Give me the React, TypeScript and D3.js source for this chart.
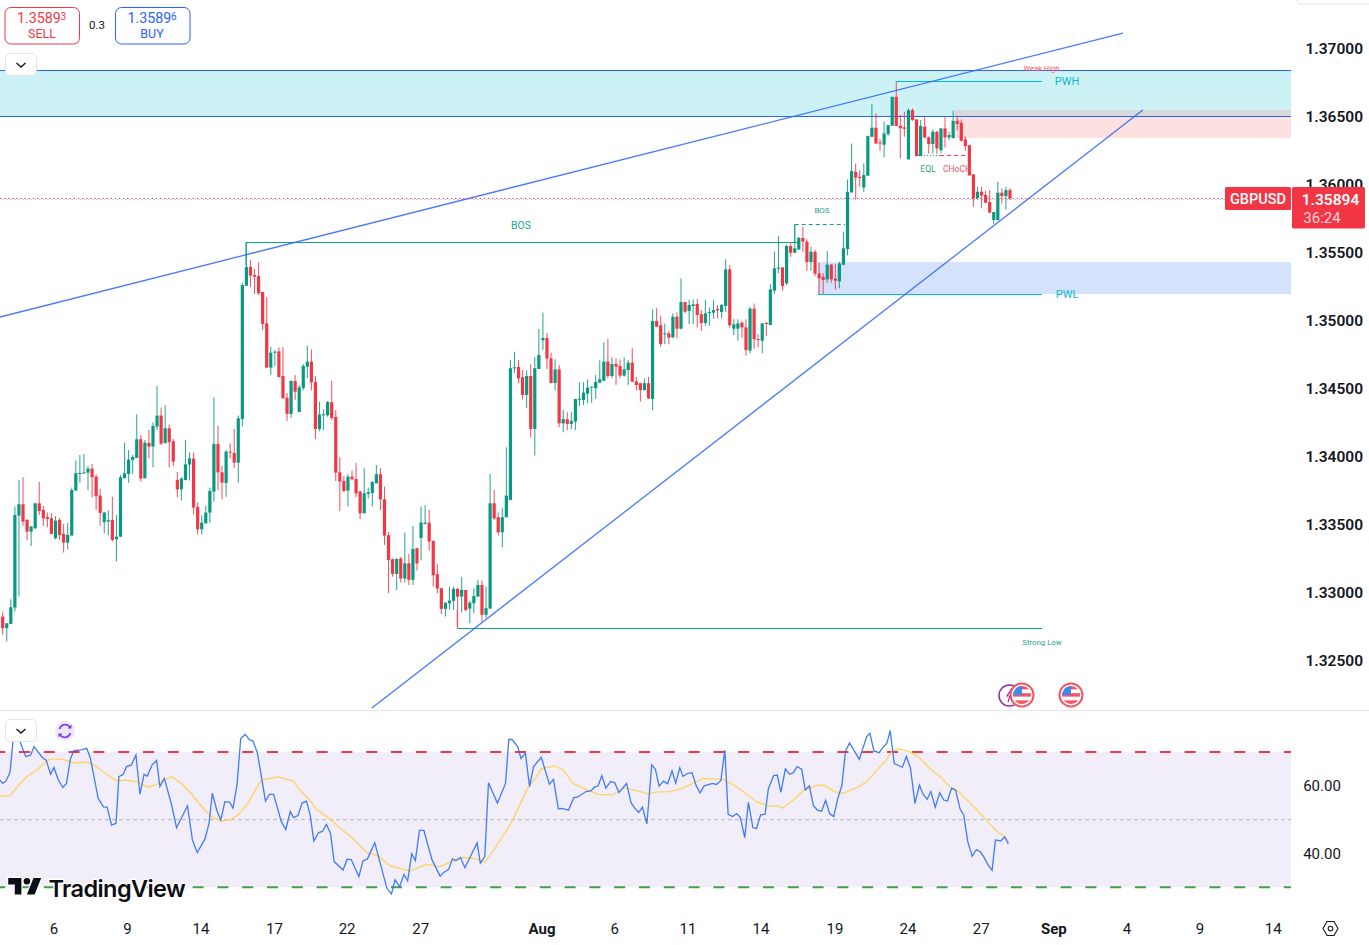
import React from "react";
import * as d3 from "d3";

const opens = [1.32819,1.32734,1.32765,1.32886,1.33562,1.33645,1.33530,1.33444,1.33469,1.33652,
1.33603,1.33550,1.33542,1.33395,1.33530,1.33427,1.33363,1.33415,1.33746,1.33871,
1.33873,1.33878,1.33907,1.33848,1.33709,1.33513,1.33518,1.33530,1.33388,1.33407,
1.33836,1.33868,1.33971,1.33986,1.34123,1.33836,1.34096,1.34069,1.34216,1.34297,
1.34094,1.34204,1.34108,1.33824,1.33755,1.33824,1.33937,1.33981,1.33626,1.33461,
1.33505,1.33584,1.33738,1.34089,1.33880,1.33802,1.34032,1.34022,1.33951,1.34272,
1.35252,1.35390,1.35331,1.35323,1.35206,1.34975,1.34650,1.34760,1.34770,1.34588,
1.34429,1.34309,1.34552,1.34324,1.34500,1.34657,1.34694,1.34544,1.34199,1.34299,
1.34299,1.34395,1.34287,1.33880,1.33817,1.33746,1.33848,1.33831,1.33738,1.33579,
1.33721,1.33728,1.33799,1.33866,1.33682,1.33417,1.33241,1.33133,1.33246,1.33099,
1.33211,1.33089,1.33322,1.33398,1.33501,1.33510,1.33376,1.33131,1.33028,1.32876,
1.32917,1.32935,1.33023,1.32966,1.33015,1.32878,1.32917,1.32966,1.33052,1.32832,
1.32878,1.33652,1.33550,1.33439,1.33550,1.33677,1.34647,1.34655,1.34579,1.34449,
1.34588,1.34199,1.34640,1.34851,1.34868,1.34718,1.34537,1.34637,1.34240,1.34270,
1.34236,1.34253,1.34414,1.34412,1.34459,1.34503,1.34498,1.34539,1.34554,1.34694,
1.34588,1.34677,1.34662,1.34591,1.34632,1.34686,1.34549,1.34535,1.34485,1.34535,
1.34419,1.34993,1.34961,1.34897,1.34902,1.34873,1.35024,1.34936,1.35132,1.35066,
1.35103,1.35118,1.35042,1.34978,1.35054,1.35054,1.35081,1.35059,1.35103,1.35372,
1.34936,1.34936,1.34980,1.34946,1.34775,1.35083,1.34860,1.34848,1.34978,1.34963,
1.35216,1.35377,1.35387,1.35269,1.35544,1.35495,1.35519,1.35603,1.35576,1.35426,
1.35502,1.35343,1.35318,1.35299,1.35407,1.35304,1.35284,1.35407,1.35522,1.35938,
1.36090,1.36053,1.35975,1.36061,1.36347,1.36414,1.36306,1.36289,1.36367,1.36428,
1.36641,1.36428,1.36416,1.36181,1.36543,1.36475,1.36205,1.36421,1.36343,1.36294,
1.36384,1.36249,1.36409,1.36343,1.36338,1.36465,1.36450,1.36328,1.36286,1.36071,
1.35897,1.35943,1.35919,1.35867,1.35735,1.35735,1.35936,1.35911,1.35955];

const closes = [1.32734,1.32770,1.32888,1.33567,1.33645,1.33518,1.33444,1.33481,1.33652,1.33596,
1.33542,1.33537,1.33427,1.33525,1.33420,1.33363,1.33420,1.33750,1.33873,1.33875,
1.33880,1.33907,1.33844,1.33704,1.33581,1.33584,1.33528,1.33383,1.33407,1.33844,
1.33873,1.33973,1.33993,1.34123,1.33834,1.34098,1.34069,1.34221,1.34297,1.34091,
1.34204,1.34101,1.33959,1.33755,1.33834,1.33939,1.33983,1.33621,1.33461,1.33510,
1.33584,1.33743,1.34089,1.33880,1.33804,1.34032,1.34025,1.33951,1.34277,1.35257,
1.35390,1.35326,1.35318,1.35196,1.34971,1.34650,1.34760,1.34767,1.34581,1.34424,
1.34309,1.34552,1.34473,1.34505,1.34662,1.34694,1.34542,1.34199,1.34304,1.34307,
1.34397,1.34280,1.33878,1.33812,1.33743,1.33848,1.33829,1.33726,1.33579,1.33726,
1.33733,1.33809,1.33866,1.33682,1.33415,1.33234,1.33133,1.33243,1.33099,1.33211,
1.33089,1.33317,1.33211,1.33510,1.33510,1.33371,1.33123,1.33025,1.32876,1.32922,
1.32937,1.33023,1.32966,1.33015,1.32868,1.32922,1.32971,1.33052,1.32832,1.32881,
1.33652,1.33542,1.33439,1.33550,1.33709,1.34645,1.34652,1.34571,1.34449,1.34588,
1.34199,1.34645,1.34743,1.34868,1.34716,1.34537,1.34637,1.34240,1.34272,1.34236,
1.34258,1.34419,1.34422,1.34466,1.34503,1.34510,1.34544,1.34564,1.34694,1.34588,
1.34677,1.34657,1.34591,1.34637,1.34686,1.34547,1.34522,1.34485,1.34535,1.34424,
1.34993,1.34951,1.34824,1.34902,1.34870,1.35024,1.34936,1.35132,1.35061,1.35110,
1.35115,1.35037,1.34978,1.35049,1.35059,1.35073,1.35071,1.35110,1.35372,1.34961,
1.34968,1.34975,1.34946,1.34779,1.35083,1.34858,1.34858,1.34975,1.34971,1.35225,
1.35380,1.35385,1.35250,1.35544,1.35495,1.35527,1.35603,1.35576,1.35426,1.35502,
1.35341,1.35306,1.35294,1.35407,1.35299,1.35289,1.35416,1.35527,1.35943,1.36095,
1.36046,1.36044,1.36066,1.36352,1.36414,1.36298,1.36298,1.36372,1.36433,1.36641,
1.36426,1.36411,1.36406,1.36543,1.36470,1.36205,1.36426,1.36343,1.36294,1.36384,
1.36262,1.36409,1.36343,1.36360,1.36465,1.36441,1.36318,1.36279,1.36063,1.35894,
1.35943,1.35914,1.35862,1.35789,1.35794,1.35936,1.35911,1.35955,1.35894];

const highs = [1.32856,1.32770,1.32947,1.33628,1.33824,1.33844,1.33537,1.33486,1.33657,1.33809,
1.33633,1.33584,1.33579,1.33559,1.33542,1.33501,1.33510,1.33768,1.33966,1.34008,
1.34015,1.33927,1.33942,1.33866,1.33758,1.33589,1.33599,1.33701,1.33567,1.33861,
1.34098,1.34044,1.34008,1.34307,1.34157,1.34118,1.34191,1.34248,1.34515,1.34356,
1.34373,1.34231,1.34125,1.33883,1.33844,1.34118,1.34025,1.34025,1.33660,1.33567,
1.33635,1.33768,1.34432,1.34223,1.33927,1.34044,1.34093,1.34199,1.34297,1.35274,
1.35570,1.35441,1.35375,1.35424,1.35206,1.35167,1.34804,1.34779,1.34797,1.34802,
1.34463,1.34557,1.34596,1.34522,1.34677,1.34811,1.34784,1.34588,1.34397,1.34343,
1.34405,1.34554,1.34336,1.33991,1.33853,1.33866,1.33893,1.33949,1.33746,1.33910,
1.33768,1.33814,1.33934,1.33910,1.33775,1.33442,1.33248,1.33248,1.33260,1.33437,
1.33280,1.33486,1.33322,1.33628,1.33638,1.33603,1.33376,1.33204,1.33028,1.32922,
1.33040,1.33040,1.33028,1.33113,1.33015,1.32935,1.33028,1.33089,1.33084,1.33040,
1.33868,1.33750,1.33584,1.33616,1.34064,1.34706,1.34767,1.34706,1.34632,1.34628,
1.34674,1.34726,1.34934,1.35056,1.34907,1.34760,1.34711,1.34669,1.34338,1.34321,
1.34326,1.34419,1.34542,1.34542,1.34564,1.34510,1.34596,1.34704,1.34836,1.34860,
1.34726,1.34718,1.34711,1.34726,1.34706,1.34792,1.34583,1.34539,1.34571,1.34583,
1.35078,1.35086,1.35032,1.34975,1.34919,1.35049,1.35056,1.35306,1.35132,1.35147,
1.35152,1.35154,1.35073,1.35147,1.35091,1.35147,1.35110,1.35118,1.35446,1.35404,
1.35005,1.35005,1.34993,1.35005,1.35098,1.35122,1.34895,1.34975,1.34988,1.35262,
1.35505,1.35617,1.35387,1.35556,1.35568,1.35703,1.35612,1.35686,1.35593,1.35539,
1.35519,1.35421,1.35343,1.35507,1.35412,1.35412,1.35429,1.35649,1.36034,1.36298,
1.36151,1.36102,1.36151,1.36357,1.36588,1.36519,1.36330,1.36458,1.36433,1.36641,
1.36752,1.36507,1.36531,1.36556,1.36556,1.36475,1.36470,1.36490,1.36352,1.36401,
1.36392,1.36409,1.36490,1.36384,1.36539,1.36502,1.36475,1.36352,1.36286,1.36071,
1.35980,1.35980,1.35951,1.35955,1.35794,1.36017,1.35968,1.35980,1.35968];

const lows = [1.32685,1.32636,1.32765,1.32856,1.32966,1.33488,1.33378,1.33339,1.33461,1.33567,
1.33488,1.33476,1.33427,1.33388,1.33383,1.33290,1.33314,1.33415,1.33746,1.33804,
1.33868,1.33750,1.33694,1.33603,1.33488,1.33432,1.33415,1.33371,1.33224,1.33403,
1.33836,1.33804,1.33868,1.33986,1.33812,1.33836,1.33983,1.33917,1.34191,1.34081,
1.34094,1.33917,1.33927,1.33694,1.33672,1.33819,1.33819,1.33572,1.33422,1.33422,
1.33505,1.33510,1.33665,1.33750,1.33682,1.33701,1.33983,1.33910,1.33804,1.34216,
1.35252,1.35245,1.35191,1.35186,1.34926,1.34650,1.34596,1.34662,1.34576,1.34424,
1.34258,1.34280,1.34412,1.34324,1.34481,1.34571,1.34481,1.34125,1.34182,1.34191,
1.34289,1.34265,1.33817,1.33596,1.33736,1.33628,1.33819,1.33697,1.33537,1.33579,
1.33687,1.33628,1.33799,1.33603,1.33346,1.32991,1.33113,1.33015,1.33069,1.33069,
1.33052,1.33052,1.33158,1.33231,1.33496,1.33305,1.33040,1.32991,1.32839,1.32819,
1.32873,1.32868,1.32741,1.32849,1.32856,1.32770,1.32844,1.32966,1.32783,1.32807,
1.32878,1.33530,1.33415,1.33329,1.33550,1.33677,1.34608,1.34535,1.34417,1.34351,
1.34135,1.34003,1.34640,1.34779,1.34640,1.34535,1.34481,1.34211,1.34174,1.34191,
1.34196,1.34191,1.34368,1.34373,1.34387,1.34392,1.34419,1.34539,1.34547,1.34571,
1.34571,1.34522,1.34571,1.34583,1.34522,1.34542,1.34481,1.34400,1.34481,1.34419,
1.34338,1.34951,1.34804,1.34821,1.34824,1.34865,1.34865,1.34931,1.35049,1.34971,
1.34971,1.34944,1.34919,1.34958,1.34958,1.35010,1.35012,1.35012,1.35061,1.34944,
1.34890,1.34848,1.34870,1.34738,1.34755,1.34789,1.34797,1.34755,1.34882,1.34963,
1.35191,1.35343,1.35216,1.35257,1.35465,1.35490,1.35514,1.35502,1.35363,1.35363,
1.35323,1.35189,1.35189,1.35274,1.35274,1.35225,1.35233,1.35402,1.35475,1.35938,
1.35887,1.35980,1.35941,1.36061,1.36347,1.36294,1.36245,1.36196,1.36352,1.36428,
1.36426,1.36188,1.36347,1.36181,1.36465,1.36205,1.36205,1.36335,1.36225,1.36225,
1.36220,1.36225,1.36269,1.36323,1.36335,1.36396,1.36311,1.36245,1.36063,1.35833,
1.35887,1.35821,1.35862,1.35789,1.35706,1.35730,1.35857,1.35813,1.35882];

const rsiBars = [-0.7,0,0.8,1.8,2.6,3.9,4.4,5.7,6.9,7.7,9.8,10.7,11.8,12.6,13.7,14.8,15.7,16.7,17.5,19.4,20.7,21.6,23.5,24.8,25.7,26.8,27.9,28.6,29.7,30.5,31.7,32.8,33.8,34.8,35.6,36.8,37.9,38.7,39.8,41.6,42.8,45.5,46.7,47.9,49.8,50.8,51.6,52.8,53.7,54.7,55.9,56.7,57.7,58.6,59.7,60.8,61.6,62.7,64.7,65.7,66.7,68.6,69.7,70.8,71.6,72.7,73.7,74.8,75.7,76.6,77.8,78.7,79.7,80.7,81.6,83.8,84.8,85.8,87.7,88.7,89.8,91.6,94.6,95.7,96.6,97.7,98.8,99.7,100.7,101.6,102.6,103.7,105.7,107.7,108.6,109.8,110.7,111.6,112.7,113.8,116.8,117.6,118.7,119.6,121.8,123.8,124.6,125.4,126.8,127.6,128.7,129.7,130.7,132.6,134.6,135.6,136.8,137.7,139.3,140.6,141.6,143.6,144.8,145.7,146.6,147.5,148.5,149.7,150.7,151.7,153.6,154.7,155.6,156.6,157.5,158.6,159.8,160.7,161.6,162.7,163.7,164.8,165.7,166.7,167.5,168.7,169.7,170.7,171.7,172.7,174.8,175.7,176.8,177.8,178.6,179.7,180.7,181.6,182.7,183.6,184.7,185.6,186.6,187.7,188.5,189.8,190.7,191.6,192.7,193.7,194.6,195.6,196.7,197.6,198.6,199.6,200.6,201.6,202.6,203.6,204.6,205.6,206.6,207.5,208.5,210.9,212.7,213.5,214.5,215.8,216.8,217.7,218.5,219.5,221.5,222.5,223.5,224.6,225.7,226.6,227.6,228.5,229.6,230.7,231.7,232.6,233.6,234.6,235.7,236.6,237.6,238.7,239.7,240.7,241.6,242.6,243.6,244.4,245.7,246.7,247.6];
const rsiValues = [61.7,60.7,61.4,64,74,75,72.6,68.6,69.1,71.6,68.3,67.6,63.4,65.4,61.7,59.5,60.7,68.1,70.4,70.6,71.1,68.1,56.3,53.8,53.7,48.4,48.9,62.7,63.4,65.7,66.2,69.1,57.5,63.4,62.9,66.2,67.5,59.8,62.2,54.3,47.6,54.1,44,40.3,44.3,48.9,57.8,52.4,49.9,55.3,55.1,53.4,60.4,74,75.2,73.6,73.3,69.8,55.5,57.5,57.5,49.4,47.1,52.4,50.6,51.2,54.9,55.5,51.4,43.7,46.2,46.5,48.6,46,37.6,35.1,38.3,38.2,33.2,37.8,38.4,43.2,29.7,28,32.2,30.2,33.8,31.9,39.9,37.9,46.8,46.8,38.1,33.3,34.4,35.3,38.4,37.9,38.8,35.8,43.1,37.1,39.1,60.9,54.9,60.7,73.7,73.7,71.6,68.1,69.6,59.8,65.7,68.4,60.5,61.9,53.2,53.3,52.8,56.5,56.7,58.3,58.5,59.6,60,63,59.3,61.3,60.9,58,60.7,55,53.4,52.1,53.7,48.8,66.2,64.9,59.9,61.4,60.6,64.4,60.8,65.4,62.8,63.7,63.9,60.2,57.9,60,60.7,60.4,61.5,70.6,51.6,50.9,51.8,50.7,44.7,55.1,47.6,47.4,51.4,51.6,59.1,63,63.2,58.1,65,63.4,63.8,65.7,64.9,58.8,60,54.1,52.8,52.5,55.7,51.8,50.9,56.3,60,70.3,72.7,67.8,74.5,75.5,70.3,69.8,71.5,72.6,76.3,66.6,65.5,68.7,65.2,54.8,60.2,57.5,56,58.3,53.7,57.9,55.8,55.5,59.3,58.7,53.2,51.4,43.5,39.2,41.1,40.5,38.9,36.6,35,44,43.7,44.9,42.8];

const maBars = [-0.7,1.8,3.9,5.9,8.4,10.8,11.6,14.5,18,20.8,22.7,25.6,28.1,30.5,33,35.8,37.9,40.4,41.6,44.1,46.5,49.4,51.4,53.9,56,58,60.5,62.5,63.7,65.8,67.8,71.5,73.6,75.6,77.3,80.1,83,85.9,89.6,92.4,95.3,100.2,104.3,107.6,110.5,113.4,116.7,118.7,121.2,124.9,126.9,129,130.8,132.6,135.9,138,140.4,142.9,146.6,149.9,153.2,156.4,158.9,161,164.2,167.5,172.4,177.4,180.6,185.6,188.5,190.9,192,195,197,200.7,202.3,204.8,206.9,210.6,212.6,214.3,217.5,219.2,220.8,223.7,225.7,228.2,230.6,233.1,235.1,239.6,242.9,244.9,246.6,247.7];
const maValues = [57,57,60.1,62.7,64.7,67.3,67.9,67.9,66.7,67,66,63.4,61.5,61.7,61.2,59.6,60.4,62.2,62.7,60.7,57.5,53.3,50.9,49.6,49.9,51.4,55.1,59.3,61.7,62.2,62.6,61.4,58.1,55.8,52.9,50.6,47.6,44.7,40.3,39.3,36.4,34.8,36.8,36.1,37.6,38.8,38.4,37.4,41.5,48.4,53.3,58.8,61.7,65,65.9,64.7,60.7,59.3,57.5,57.3,59.3,58.5,57.6,58.2,58.3,59.3,62.2,61.9,59.8,55.3,54,54.1,53.4,56.1,58.5,60.2,60.2,58.3,57.8,59.6,61.2,63.4,67.6,70.4,70.9,69.8,68.3,65.2,62.9,59.8,58.5,53.2,48.9,46.4,45,43.5];

const priceTicks = [1.37, 1.365, 1.36, 1.355, 1.35, 1.345, 1.34, 1.335, 1.33, 1.325];
const rsiTicks = [60, 40];
const timeLabels = ["6","9","14","17","22","27","Aug","6","11","14","19","24","27","Sep","4","9","14"];
const timeBars = [12.6,30.7,48.8,66.9,84.8,102.9,132.8,150.7,168.7,186.7,204.9,222.9,240.9,258.8,276.8,294.8,312.8];
const trendLines = [[[-0.66,1.35022],[275.8,1.3711]],[[90.9,1.32147],[280.7,1.36544]]];

const UP = "#089981", DOWN = "#f23645", BLUE = "#2962ff", TEAL = "#00bcd4";
const FONT = "Roboto, 'Noto Sans', sans-serif";

const Flag = ({ cx, cy, id }: { cx: number; cy: number; id: string }) => (
  <g>
    <clipPath id={id}><circle cx={cx} cy={cy} r={9} /></clipPath>
    <circle cx={cx} cy={cy} r={11.5} fill="#fff" stroke="#f7525f" strokeWidth={2} />
    <g clipPath={`url(#${id})`}>
      {[-9, -5.4, -1.8, 1.8, 5.4].map((d, i) => (
        <rect key={i} x={cx - 10} y={cy + d} width={20} height={3.6} fill={i % 2 ? "#fff" : "#f7525f"} />
      ))}
      <rect x={cx - 10} y={cy - 10} width={10} height={10} fill="#3d8bea" />
    </g>
  </g>
);

const Chevron = ({ y }: { y: number }) => (
  <g>
    <rect x={5.5} y={y} width={31} height={22} rx={4} fill="#fff" stroke="#e0e3eb" />
    <path d={`M16.5 ${y + 9.5}l4.5 4 4.5-4`} fill="none" stroke="#131722" strokeWidth={1.4} />
  </g>
);

export default function App() {
  const xBar = d3.scaleLinear().domain([0, 248]).range([2.7, 1010]);
  const yPrice = d3.scaleLinear().domain([1.37, 1.325]).range([48, 660]);
  const yRsi = d3.scaleLinear().domain([70, 30]).range([752, 887.3]);
  const plotRight = 1291;
  const last = closes[closes.length - 1];
  const lastY = yPrice(last);
  const snap = (v: number) => Math.round(v - 0.5) + 0.5;

  const rsiLine = d3.line<number>().x((_, i) => xBar(rsiBars[i])).y(d => yRsi(d));
  const maLine = d3.line<number>().x((_, i) => xBar(maBars[i])).y(d => yRsi(d));

  const small = (x: number, y: number, s: string, fill: string, size = 9, weight = 400) => (
    <text x={x} y={y} fontSize={size} fontWeight={weight} fill={fill} textAnchor="middle" dominantBaseline="central" fontFamily={FONT}>{s}</text>
  );

  const hLine = (p: number, x1: number, x2: number, stroke: string, dash?: string) => (
    <line x1={x1} x2={x2} y1={snap(yPrice(p))} y2={snap(yPrice(p))} stroke={stroke} strokeWidth={1} strokeDasharray={dash} />
  );

  return (
    <svg width={1369} height={945} style={{ position: "absolute", left: 0, top: 0, display: "block", background: "#fff" }}>
      <defs>
        <clipPath id="rsiClip"><rect x={0} y={711} width={plotRight} height={200} /></clipPath>
        <clipPath id="mainClip"><rect x={0} y={0} width={plotRight} height={710} /></clipPath>
      </defs>

      {/* zones */}
      <rect x={0} y={yPrice(1.36831)} width={plotRight} height={yPrice(1.365) - yPrice(1.36831)} fill="#ccf2f5" />
      <rect x={xBar(234.4)} y={yPrice(1.36544)} width={plotRight - xBar(234.4)} height={yPrice(1.36338) - yPrice(1.36544)} fill="#fde1e1" />
      <rect x={xBar(234.4)} y={yPrice(1.36544)} width={plotRight - xBar(234.4)} height={yPrice(1.365) - yPrice(1.36544)} fill="#d9d9dc" />
      <rect x={xBar(200.7)} y={yPrice(1.35426)} width={plotRight - xBar(200.7)} height={yPrice(1.35191) - yPrice(1.35426)} fill="#d4e2fb" />
      {hLine(1.36831, 0, plotRight, BLUE)}
      {hLine(1.365, 0, plotRight, BLUE)}

      {/* candles */}
      <g clipPath="url(#mainClip)">
        {opens.map((o, i) => {
          const c = closes[i];
          const col = c >= o ? UP : DOWN;
          const x = xBar(i);
          const top = yPrice(Math.max(o, c));
          const h = Math.max(1, yPrice(Math.min(o, c)) - top);
          return (
            <g key={i}>
              <line x1={x} x2={x} y1={yPrice(highs[i])} y2={yPrice(lows[i])} stroke={col} strokeWidth={1.05} strokeOpacity={0.85} />
              <rect x={x - 1.6} y={top} width={3.2} height={h} fill={col} />
            </g>
          );
        })}
      </g>

      {/* structure lines */}
      {hLine(1.35568, xBar(59.9), xBar(195.8), "#12a08a")}
      <line x1={xBar(59.9)} x2={xBar(59.9)} y1={yPrice(1.35568)} y2={yPrice(1.354)} stroke="#12a08a" strokeWidth={1} />
      <path d={`M${xBar(195)} ${yPrice(1.35568)}V${yPrice(1.35704)}`} fill="none" stroke="#12a08a" />
      {hLine(1.35704, xBar(195), xBar(207.4), "#12a08a", "4 3")}
      {hLine(1.32732, xBar(111.9), xBar(255.9), "#12a08a")}
      <line x1={xBar(111.9)} x2={xBar(111.9)} y1={yPrice(1.32732)} y2={yPrice(1.3287)} stroke={DOWN} strokeWidth={1} strokeOpacity={0.7} />
      {hLine(1.36754, xBar(219.9), xBar(255.9), TEAL)}
      {hLine(1.35191, xBar(200.7), xBar(255.9), TEAL)}
      {hLine(1.36213, xBar(224.6), xBar(230.8), "#12a08a", "1 2")}
      {hLine(1.36213, xBar(230.8), xBar(238.2), DOWN, "4 3")}

      {/* trend lines */}
      {trendLines.map((l, i) => (
        <line key={i} x1={xBar(l[0][0])} y1={yPrice(l[0][1])} x2={xBar(l[1][0])} y2={yPrice(l[1][1])} stroke={BLUE} strokeWidth={1.3} strokeOpacity={0.85} />
      ))}

      {/* last price line */}
      <line x1={0} x2={1225} y1={snap(lastY)} y2={snap(lastY)} stroke={DOWN} strokeDasharray="1.3 2.8" strokeWidth={1.1} />
      <line x1={2} x2={1225} y1={snap(lastY) + 1} y2={snap(lastY) + 1} stroke={BLUE} strokeDasharray="1.3 2.8" strokeOpacity={0.4} />

      {/* labels */}
      {small(521, 225, "BOS", "#2aa58e", 10.5)}
      {small(822, 210, "BOS", "#2aa58e", 8)}
      {small(928, 168.5, "EQL", "#2aa58e", 8.5)}
      {small(957, 168.5, "CHoCH", "#f7525f", 8.5)}
      {small(1041.5, 68, "Weak High", "#f7525f", 7.5)}
      {small(1067, 81.5, "PWH", "#12b8d0", 11)}
      {small(1067, 294, "PWL", "#12b8d0", 11)}
      {small(1042, 642.5, "Strong Low", "#2aa58e", 7.8)}

      {/* price axis */}
      {priceTicks.map(p => (
        <text key={p} x={1363} y={yPrice(p) + 0.7} textAnchor="end" dominantBaseline="central" fontSize={15.5} fontWeight={600} fill="#131722" fontFamily={FONT}>{p.toFixed(5)}</text>
      ))}

      {/* price tags */}
      <rect x={1225} y={187} width={66} height={23} rx={1.5} fill={DOWN} />
      <text x={1258} y={199.5} textAnchor="middle" dominantBaseline="central" fontSize={14.5} fontWeight={500} fill="#fff" fontFamily={FONT}>GBPUSD</text>
      <rect x={1292} y={187} width={73} height={41.5} rx={1.5} fill={DOWN} />
      <text x={1330.5} y={200} textAnchor="middle" dominantBaseline="central" fontSize={15.5} fontWeight={600} fill="#fff" fontFamily={FONT}>{last.toFixed(5)}</text>
      <text x={1322} y={217.5} textAnchor="middle" dominantBaseline="central" fontSize={15} fill="#fcd5d9" fontFamily={FONT}>36:24</text>

      {/* pane divider */}
      <line x1={0} x2={1369} y1={710.5} y2={710.5} stroke="#e6e6ea" />

      {/* events */}
      <circle cx={1009.5} cy={695.5} r={10.5} fill="#fff" stroke="#9c27b0" strokeWidth={1.5} />
      <path d="M1012 688l-5 8h3l-2 6" fill="none" stroke="#9c27b0" strokeWidth={1.2} />
      <Flag cx={1022} cy={695} id="flagA" />
      <Flag cx={1071} cy={695} id="flagB" />

      {/* RSI pane */}
      <rect x={0} y={yRsi(70)} width={plotRight} height={yRsi(30) - yRsi(70)} fill="#f1edf9" />
      <line x1={-5.8} x2={plotRight} y1={yRsi(70)} y2={yRsi(70)} stroke={DOWN} strokeWidth={2} strokeDasharray="11 13.8" />
      <line x1={-5.8} x2={plotRight} y1={yRsi(30)} y2={yRsi(30)} stroke="#43a047" strokeWidth={2} strokeDasharray="11 13.8" />
      <line x1={0} x2={plotRight} y1={yRsi(50)} y2={yRsi(50)} stroke="#b6b4bf" strokeWidth={1} strokeDasharray="4 3" />
      <g clipPath="url(#rsiClip)">
        <path d={maLine(maValues) || ""} fill="none" stroke="#ffd35c" strokeWidth={1.3} />
        <path d={rsiLine(rsiValues) || ""} fill="none" stroke="#2f6ff5" strokeWidth={1.3} strokeOpacity={0.9} />
      </g>
      {rsiTicks.map(v => (
        <text key={v} x={1322} y={yRsi(v) + 0.5} textAnchor="middle" dominantBaseline="central" fontSize={15} fill="#131722" fontFamily={FONT}>{v.toFixed(2)}</text>
      ))}

      {/* time axis */}
      {timeLabels.map((t, i) => (
        <text key={i} x={xBar(timeBars[i])} y={928.5} textAnchor="middle" dominantBaseline="central" fontSize={15} fontWeight={t === "Aug" || t === "Sep" ? 700 : 400} fill="#131722" fontFamily={FONT}>{t}</text>
      ))}
      <g transform="translate(1330.5 928.5)" fill="none" stroke="#131722" strokeWidth={1.1}>
        <path d="M-3.5 -7H3.5L7.5 0L3.5 7H-3.5L-7.5 0Z" />
        <circle r={2.3} />
      </g>

      {/* watermark */}
      <g transform="translate(6 871.4) scale(1.1)">
        <path d="M14 6H2v6h6v9h6V6Zm12 15h-7l6-15h7l-6 15Zm-7-9a3 3 0 1 0 0-6 3 3 0 0 0 0 6Z" fill="#0b0e14" stroke="#fff" strokeWidth={2} paintOrder="stroke" />
      </g>
      <text x={48.5} y={888} dominantBaseline="central" fontSize={23.5} fontWeight={600} fill="#0b0e14" stroke="#fff" strokeWidth={3} paintOrder="stroke" fontFamily="Inter, Roboto, sans-serif" letterSpacing={-0.6}>TradingView</text>

      {/* sell / buy */}
      <rect x={5} y={7.5} width={74.5} height={36.5} rx={6} fill="#fff" stroke={DOWN} />
      <text x={17} y={18} dominantBaseline="central" fontSize={14.2} fill={DOWN} fontFamily={FONT}>1.3589<tspan fontSize={10} dy={-2}>3</tspan></text>
      <text x={42} y={33.5} textAnchor="middle" dominantBaseline="central" fontSize={12.5} fill={DOWN} fontFamily={FONT}>SELL</text>
      <text x={97} y={25} textAnchor="middle" dominantBaseline="central" fontSize={11.5} fill="#131722" fontFamily={FONT}>0.3</text>
      <rect x={115.5} y={7.5} width={74.5} height={36.5} rx={6} fill="#fff" stroke={BLUE} />
      <text x={127.5} y={18} dominantBaseline="central" fontSize={14.2} fill={BLUE} fontFamily={FONT}>1.3589<tspan fontSize={10} dy={-2}>6</tspan></text>
      <text x={152} y={33.5} textAnchor="middle" dominantBaseline="central" fontSize={12.5} fill={BLUE} fontFamily={FONT}>BUY</text>

      {/* controls */}
      <Chevron y={53.5} />
      <Chevron y={719.5} />
      <circle cx={65} cy={731} r={10} fill="#ece6f8" />
      <g fill="none" stroke="#7c3aed" strokeWidth={1.6}>
        <path d="M59.5 729a6 6 0 0 1 10.5-2" />
        <path d="M70.5 733a6 6 0 0 1-10.5 2" />
      </g>
      <path d="M71.5 724.5v4h-4zM58.5 737.5v-4h4z" fill="#7c3aed" />

      {/* top-right tab */}
      <path d="M1297.5 0v1a3 3 0 0 0 3 3H1369" fill="#fff" stroke="#e0e3eb" />
    </svg>
  );
}
